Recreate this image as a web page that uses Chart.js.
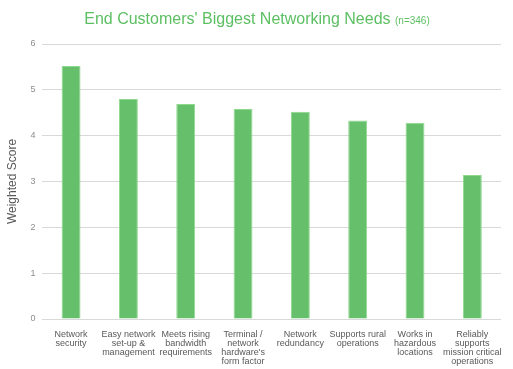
<!DOCTYPE html>
<html>
<head>
<meta charset="utf-8">
<script src="https://cdn.jsdelivr.net/npm/chart.js@4"></script>
<style>
html,body{margin:0;padding:0;background:#fff;}
#wrap{width:513px;height:369px;position:relative;}
</style>
</head>
<body>
<div id="wrap"><canvas id="c" width="513" height="369"></canvas></div>
<script>
const titleMain = "End Customers' Biggest Networking Needs";
const titleSub = "(n=346)";
const yAxisTitle = "Weighted Score";
const categories = [
  ["Network", "security"],
  ["Easy network", "set-up &", "management"],
  ["Meets rising", "bandwidth", "requirements"],
  ["Terminal /", "network", "hardware's", "form factor"],
  ["Network", "redundancy"],
  ["Supports rural", "operations"],
  ["Works in", "hazardous", "locations"],
  ["Reliably", "supports", "mission critical", "operations"]
];
const scores = [5.52, 4.80, 4.69, 4.58, 4.52, 4.33, 4.28, 3.14];
const yTicks = [0, 1, 2, 3, 4, 5, 6];

const titlePlugin = {
  id: 'mixedTitle',
  afterDraw(chart) {
    const ctx = chart.ctx;
    ctx.save();
    ctx.textBaseline = 'alphabetic';
    ctx.fillStyle = '#5cbf62';
    const f1 = '16px "Liberation Sans", Arial, sans-serif';
    const f2 = '10px "Liberation Sans", Arial, sans-serif';
    ctx.font = f1;
    const w1 = ctx.measureText(titleMain + ' ').width;
    ctx.font = f2;
    const w2 = ctx.measureText(titleSub).width;
    const x0 = 257 - (w1 + w2) / 2;
    ctx.font = f1;
    ctx.textAlign = 'left';
    ctx.fillText(titleMain + ' ', x0, 24);
    ctx.font = f2;
    ctx.fillText(titleSub, x0 + w1, 24);
    ctx.restore();
  }
};

new Chart(document.getElementById('c'), {
  type: 'bar',
  data: {
    labels: categories,
    datasets: [{
      data: scores,
      backgroundColor: '#66bf6a',
      borderColor: '#8fd98f',
      borderWidth: 1,
      barPercentage: 0.33,
      categoryPercentage: 1.0
    }]
  },
  options: {
    responsive: false,
    animation: false,
    devicePixelRatio: 1,
    layout: { padding: { top: 44, right: 12, left: 5, bottom: 0 } },
    plugins: {
      legend: { display: false },
      title: { display: false },
      tooltip: { enabled: false }
    },
    scales: {
      x: {
        grid: { display: false },
        border: { display: false },
        ticks: {
          color: '#595959',
          font: { family: '"Liberation Sans", Arial, sans-serif', size: 9, lineHeight: 1.0 },
          maxRotation: 0,
          autoSkip: false,
          padding: 3
        }
      },
      y: {
        min: 0,
        max: 6,
        afterBuildTicks(axis) { axis.ticks = yTicks.map(v => ({ value: v })); },
        grid: { color: '#d9d9d9', lineWidth: 1, drawTicks: false },
        border: { display: false },
        ticks: {
          color: '#8c8c8c',
          font: { family: '"Liberation Sans", Arial, sans-serif', size: 9 },
          padding: 7
        },
        title: {
          display: true,
          text: yAxisTitle,
          color: '#595959',
          font: { family: '"Liberation Sans", Arial, sans-serif', size: 12 },
          padding: { top: 0, bottom: 4 }
        }
      }
    }
  },
  plugins: [titlePlugin]
});
</script>
</body>
</html>
